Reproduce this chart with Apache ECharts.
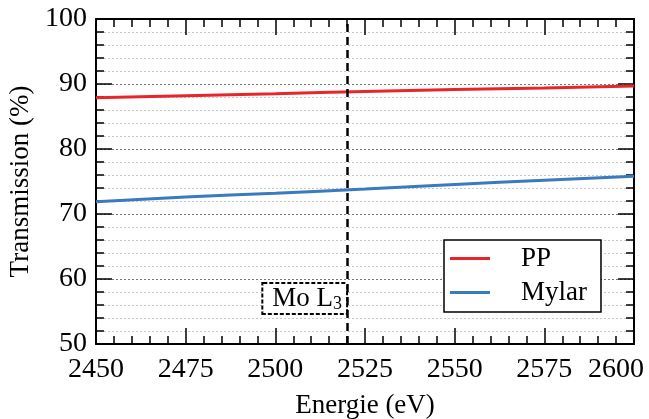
<!DOCTYPE html>
<html>
<head>
<meta charset="utf-8">
<script src="https://cdn.jsdelivr.net/npm/echarts@6/dist/echarts.min.js"></script>
<style>html,body{margin:0;padding:0;background:#fff;}#c{width:649px;height:419px;}</style>
</head>
<body>
<div id="c"></div>
<script>
var energies = [2450, 2475, 2500, 2525, 2550, 2575, 2600];
var ppValues = [87.9, 88.2, 88.5, 88.85, 89.15, 89.4, 89.7];
var mylarValues = [71.9, 72.6, 73.2, 73.85, 74.55, 75.2, 75.8];
var edgeEnergy = 2520;
var edgeLabelY = 57;
var xTicks = [2450, 2475, 2500, 2525, 2550, 2575, 2600];
var yTicks = [50, 60, 70, 80, 90, 100];

var FONT = 'Liberation Serif';
var chart = echarts.init(document.getElementById('c'));

function pairs(xs, ys) { return xs.map(function (x, i) { return [x, ys[i]]; }); }

var axisCommonX = {
  type: 'value', min: xTicks[0], max: xTicks[xTicks.length - 1], interval: 25,
  axisLine: { show: true, lineStyle: { color: '#000', width: 2 } },
  axisTick: { show: true, inside: true, length: 16, lineStyle: { color: '#000', width: 1.5 } },
  minorTick: { show: true, splitNumber: 5, length: 8, lineStyle: { color: '#000', width: 1.5 } },
  splitLine: { show: false }
};
var axisCommonY = {
  type: 'value', min: yTicks[0], max: yTicks[yTicks.length - 1], interval: 10,
  axisLine: { show: true, lineStyle: { color: '#000', width: 2 } },
  axisTick: { show: true, inside: true, length: 16, lineStyle: { color: '#000', width: 1.5 } },
  minorTick: { show: true, splitNumber: 5, length: 8, lineStyle: { color: '#000', width: 1.5 } }
};

chart.setOption({
  animation: false,
  backgroundColor: '#fff',
  grid: { left: 96, right: 15, top: 19, bottom: 75, containLabel: false, outerBoundsMode: 'none' },
  legend: {
    data: [{ name: 'PP', icon: 'rect' }, { name: 'Mylar', icon: 'rect' }],
    orient: 'vertical',
    left: 444, top: 240,
    itemWidth: 40, itemHeight: 3, itemGap: 7,
    padding: [5, 14, 6, 6],
    borderColor: '#000', borderWidth: 1.5, borderRadius: 0,
    backgroundColor: '#fff',
    textStyle: { fontFamily: FONT, fontSize: 27, color: '#000', padding: [0, 0, 0, 26] }
  },
  xAxis: [
    Object.assign({}, axisCommonX, {
      position: 'bottom',
      name: 'Energie (eV)', nameLocation: 'middle', nameGap: 48,
      nameTextStyle: { fontFamily: FONT, fontSize: 27, color: '#000' },
      axisLabel: {
        fontFamily: FONT, fontSize: 28, color: '#000', margin: 12,
        formatter: function (v) { return v === 2600 ? '{last|' + v + '}' : String(v); },
        rich: { last: { fontFamily: FONT, fontSize: 28, color: '#000', padding: [0, 36, 0, 0] } }
      }
    }),
    Object.assign({}, axisCommonX, { position: 'top', axisLabel: { show: false } })
  ],
  yAxis: [
    Object.assign({}, axisCommonY, {
      position: 'left',
      name: 'Transmission (%)', nameLocation: 'middle', nameGap: 60,
      nameTextStyle: { fontFamily: FONT, fontSize: 27, color: '#000' },
      axisLabel: { fontFamily: FONT, fontSize: 28, color: '#000', margin: 9 },
      splitLine: { show: true, lineStyle: { color: '#777', width: 1, type: [2, 2] } },
      minorSplitLine: { show: true, lineStyle: { color: '#c8c8c8', width: 1, type: [2, 2] } }
    }),
    Object.assign({}, axisCommonY, { position: 'right', axisLabel: { show: false }, splitLine: { show: false } })
  ],
  series: [
    {
      name: 'PP', type: 'line', data: pairs(energies, ppValues),
      symbol: 'none', smooth: true, color: '#e8262a',
      lineStyle: { width: 3, color: '#e8262a' }, z: 3
    },
    {
      name: 'Mylar', type: 'line', data: pairs(energies, mylarValues),
      symbol: 'none', smooth: true, color: '#3a7bbf',
      lineStyle: { width: 3, color: '#3a7bbf' }, z: 3,
      markLine: {
        silent: true, symbol: 'none', label: { show: false },
        lineStyle: { color: '#000', width: 2.5, type: [8, 5] },
        data: [{ xAxis: edgeEnergy }]
      }
    },
    {
      name: 'edge', type: 'scatter', data: [[edgeEnergy, edgeLabelY]],
      symbolSize: 0, silent: true, z: 5,
      itemStyle: { opacity: 1 },
      label: {
        show: true, position: 'left', distance: 1, opacity: 1,
        formatter: '{a|Mo L}{b|3}',
        fontFamily: FONT, fontSize: 27, color: '#000',
        backgroundColor: '#fff',
        borderColor: '#000', borderWidth: 2, borderType: [4, 2],
        padding: [1, 4, 0, 9],
        rich: {
          a: { fontFamily: FONT, fontSize: 27, color: '#000', lineHeight: 28 },
          b: { fontFamily: FONT, fontSize: 18, color: '#000', lineHeight: 28, verticalAlign: 'bottom', padding: [9, 0, 0, 0] }
        }
      }
    }
  ]
});
</script>
</body>
</html>
